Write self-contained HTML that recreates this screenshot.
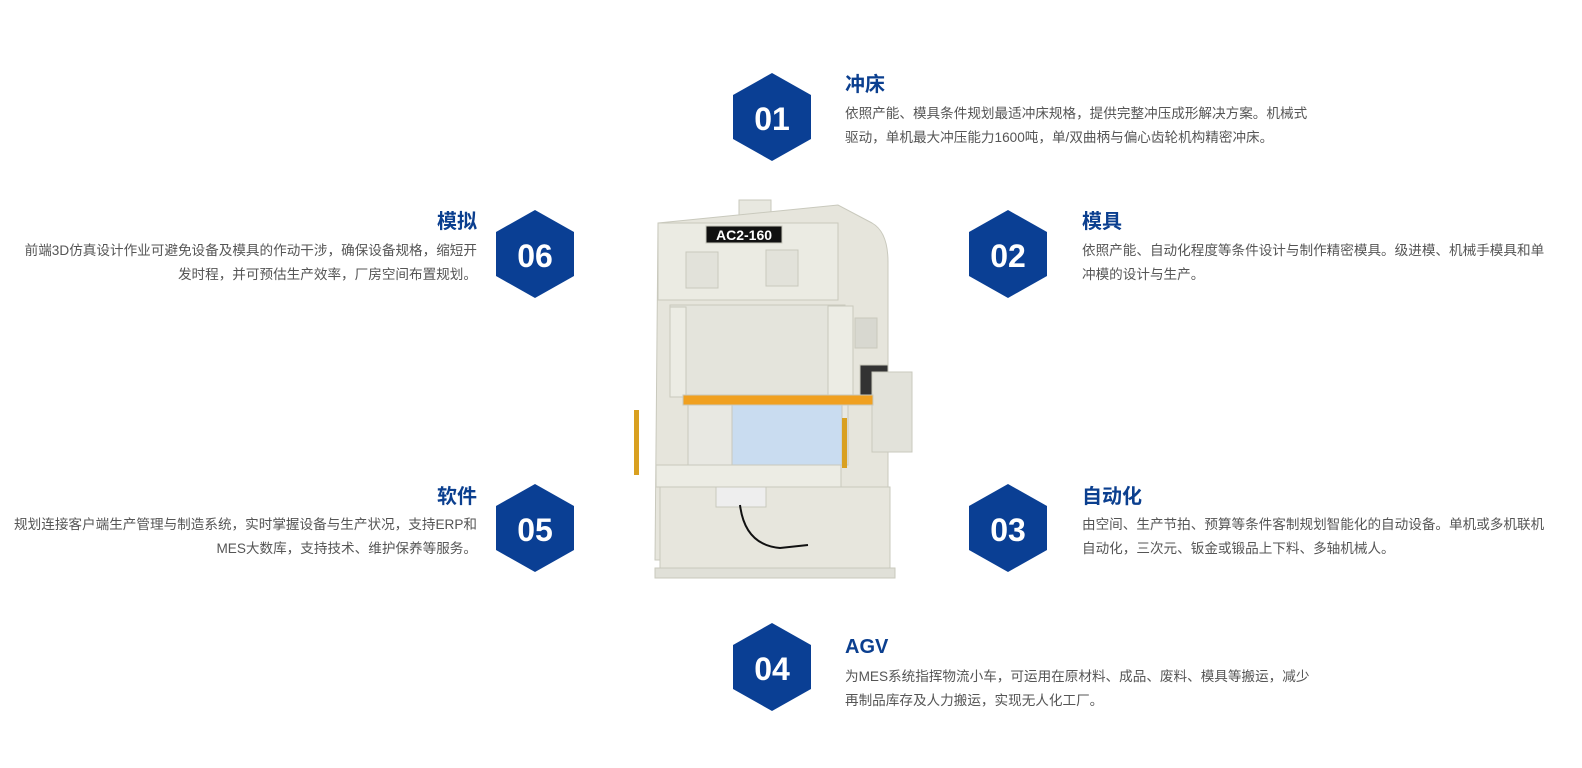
<!DOCTYPE html>
<html><head><meta charset="utf-8"><style>
body{margin:0;width:1582px;height:768px;background:#fff;position:relative;overflow:hidden;font-family:"Liberation Sans","Noto Sans CJK SC",sans-serif}
.t{position:absolute;font-size:20px;font-weight:bold;color:#0b3f8f;line-height:24px}
.p{position:absolute;font-size:13.6px;color:#555;line-height:24px;white-space:nowrap}
.r{text-align:right}
svg{position:absolute;left:0;top:0}
</style></head><body>
<svg width="1582" height="768">
<g fill="#0a3f94">
<polygon points="772,73 811,95 811,139 772,161 733,139 733,95"/>
<polygon points="535,210 574,232 574,276 535,298 496,276 496,232"/>
<polygon points="1008,210 1047,232 1047,276 1008,298 969,276 969,232"/>
<polygon points="535,484 574,506 574,550 535,572 496,550 496,506"/>
<polygon points="1008,484 1047,506 1047,550 1008,572 969,550 969,506"/>
<polygon points="772,623 811,645 811,689 772,711 733,689 733,645"/>
</g>
<g fill="#fff" font-size="32" font-weight="bold" text-anchor="middle" font-family="Liberation Sans,sans-serif">
<text x="772" y="130">01</text><text x="535" y="267">06</text><text x="1008" y="267">02</text>
<text x="535" y="541">05</text><text x="1008" y="541">03</text><text x="772" y="680">04</text>
</g>
<g stroke="#c9c9bd" stroke-width="1">
<rect x="739" y="200" width="32" height="18" fill="#e8e8e0"/>
<path d="M658 223 L838 205 L872 223 Q888 232 888 262 L888 560 L655 560 Z" fill="#e6e5dc"/>
<rect x="658" y="223" width="180" height="77" fill="#ebebe3"/>
<rect x="706" y="226" width="76" height="17" fill="#111"/>
<rect x="686" y="252" width="32" height="36" fill="#e2e2da"/>
<rect x="766" y="250" width="32" height="36" fill="#e2e2da"/>
<rect x="670" y="305" width="175" height="90" fill="#e4e4dc"/>
<rect x="828" y="306" width="25" height="92" fill="#ecece4"/>
<rect x="670" y="307" width="16" height="90" fill="#ecece4"/>
<rect x="855" y="318" width="22" height="30" fill="#d8d8d0"/>
<rect x="860" y="365" width="28" height="40" fill="#333"/>
<rect x="872" y="372" width="40" height="80" fill="#e2e2da"/>
<rect x="683" y="395" width="190" height="10" fill="#f0a020"/>
<rect x="688" y="405" width="160" height="60" fill="#e8e8e2"/>
<rect x="732" y="405" width="110" height="60" fill="#c9dcf0"/>
<rect x="656" y="465" width="185" height="22" fill="#ecece4"/>
<rect x="660" y="487" width="230" height="85" fill="#e7e6dd"/>
<rect x="655" y="568" width="240" height="10" fill="#e0e0d8"/>
<rect x="716" y="487" width="50" height="20" fill="#eee"/>
<rect x="634" y="410" width="5" height="65" fill="#d9a020" stroke="none"/>
<rect x="842" y="418" width="5" height="50" fill="#d9a020" stroke="none"/>
</g>
<text x="744" y="240" fill="#fff" font-size="14" font-weight="bold" text-anchor="middle" font-family="Liberation Sans,sans-serif">AC2-160</text>
<path d="M740 505 Q745 545 780 548 L808 545" stroke="#111" stroke-width="2" fill="none"/>
</svg>
<div class="t" style="left:845px;top:73px">冲床</div>
<div class="p" style="left:845px;top:102px">依照产能、模具条件规划最适冲床规格，提供完整冲压成形解决方案。机械式<br>驱动，单机最大冲压能力1600吨，单/双曲柄与偏心齿轮机构精密冲床。</div>
<div class="t" style="left:1082px;top:210px">模具</div>
<div class="p" style="left:1082px;top:239px">依照产能、自动化程度等条件设计与制作精密模具。级进模、机械手模具和单<br>冲模的设计与生产。</div>
<div class="t" style="left:1082px;top:485px">自动化</div>
<div class="p" style="left:1082px;top:513px">由空间、生产节拍、预算等条件客制规划智能化的自动设备。单机或多机联机<br>自动化，三次元、钣金或锻品上下料、多轴机械人。</div>
<div class="t" style="left:845px;top:635px">AGV</div>
<div class="p" style="left:845px;top:665px">为MES系统指挥物流小车，可运用在原材料、成品、废料、模具等搬运，减少<br>再制品库存及人力搬运，实现无人化工厂。</div>
<div class="t r" style="right:1105px;top:210px">模拟</div>
<div class="p r" style="right:1105px;top:239px">前端3D仿真设计作业可避免设备及模具的作动干涉，确保设备规格，缩短开<br>发时程，并可预估生产效率，厂房空间布置规划。</div>
<div class="t r" style="right:1105px;top:485px">软件</div>
<div class="p r" style="right:1105px;top:513px">规划连接客户端生产管理与制造系统，实时掌握设备与生产状况，支持ERP和<br>MES大数库，支持技术、维护保养等服务。</div>
</body></html>
